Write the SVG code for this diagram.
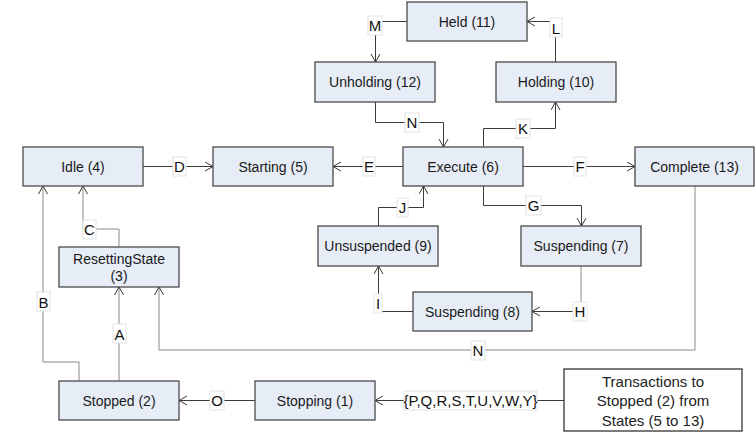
<svg xmlns="http://www.w3.org/2000/svg" width="756" height="433" viewBox="0 0 756 433">
<style>
.n rect{fill:#e7edf6;stroke:#4a4a4a;stroke-width:1.3}
.n text{font-family:"Liberation Sans",Arial,sans-serif;font-size:14px;fill:#1a1a1a;text-anchor:middle;dominant-baseline:central}
.c path{fill:none;stroke:#3a3a3a;stroke-width:1}
.c path.g{stroke:#8a8a8a}
.l rect{fill:#fff;stroke:#e2e2e2;stroke-width:1}
.l text{font-family:"Liberation Sans",Arial,sans-serif;font-size:15px;fill:#111;text-anchor:middle;dominant-baseline:central}
</style>
<defs>
<marker id="a" markerUnits="userSpaceOnUse" markerWidth="12" markerHeight="12" refX="9" refY="5" orient="auto">
<path d="M1,0.5 L9,5 L1,9.5" fill="none" stroke="#3a3a3a" stroke-width="1"/>
</marker>
</defs>
<g class="c" id="connectors">
<path d="M407,21.5 H375.5 V62" marker-end="url(#a)"/>
<path d="M555.5,62 V21.5 H527" marker-end="url(#a)"/>
<path d="M375.5,102 V122.5 H443.5 V147" marker-end="url(#a)"/>
<path d="M483.5,147 V128.5 H555.5 V102" marker-end="url(#a)"/>
<path d="M143,166.5 H213" marker-end="url(#a)"/>
<path d="M403,166.5 H333" marker-end="url(#a)"/>
<path d="M523,166.5 H635" marker-end="url(#a)"/>
<path d="M483.5,186 V205.5 H581.5 V226" marker-end="url(#a)"/>
<path d="M378.5,226 V207.5 H423.5 V186" marker-end="url(#a)"/>
<path class="g" d="M581,266 V311.5"/>
<path d="M581,311.5 H532" marker-end="url(#a)"/>
<path d="M413,311.5 H378.5 V266" marker-end="url(#a)"/>
<path class="g" d="M695,186 V350 H159 V287" marker-end="url(#a)"/>
<path class="g" d="M119,247 V229 H83 V186" marker-end="url(#a)"/>
<path class="g" d="M79,381 V362 H43 V186" marker-end="url(#a)"/>
<path class="g" d="M119,381 V287" marker-end="url(#a)"/>
<path d="M255,400.5 H179" marker-end="url(#a)"/>
<path d="M564,400.5 H375" marker-end="url(#a)"/>
</g>
<g class="l" id="labels">
<g><rect x="368" y="16" width="14" height="19"/><text x="375" y="25.5">M</text></g>
<g><rect x="550" y="18" width="12" height="19"/><text x="556" y="28">L</text></g>
<g><rect x="405" y="113" width="14" height="19"/><text x="412" y="122.5">N</text></g>
<g><rect x="516" y="119" width="14" height="19"/><text x="523" y="128.5">K</text></g>
<g><rect x="173" y="157" width="13" height="19"/><text x="179.5" y="166.5">D</text></g>
<g><rect x="363" y="157" width="12" height="19"/><text x="369" y="166.5">E</text></g>
<g><rect x="574" y="157" width="12" height="19"/><text x="580" y="166.5">F</text></g>
<g><rect x="526" y="196" width="15" height="19"/><text x="533.5" y="205.5">G</text></g>
<g><rect x="397" y="198" width="11" height="19"/><text x="402.5" y="207.5">J</text></g>
<g><rect x="573" y="302" width="14" height="19"/><text x="580" y="311.5">H</text></g>
<g><rect x="374" y="294" width="8" height="19"/><text x="378" y="303.5">I</text></g>
<g><rect x="83" y="220" width="13" height="19"/><text x="89.5" y="229">C</text></g>
<g><rect x="37" y="292" width="13" height="19"/><text x="43.5" y="302">B</text></g>
<g><rect x="113" y="324" width="13" height="19"/><text x="119.5" y="334">A</text></g>
<g><rect x="471" y="341" width="14" height="19"/><text x="478" y="350.5">N</text></g>
<g><rect x="210" y="391" width="14" height="19"/><text x="217" y="400.5">O</text></g>
<g><rect x="404" y="391" width="133" height="19"/><text x="470.5" y="400.5" font-size="14">{P,Q,R,S,T,U,V,W,Y}</text></g>
</g>
<g class="n" id="held"><rect x="407" y="2" width="120" height="39"/><text x="467" y="21.5">Held (11)</text></g>
<g class="n" id="unholding"><rect x="315" y="62" width="120" height="40"/><text x="375" y="82">Unholding (12)</text></g>
<g class="n" id="holding"><rect x="496" y="62" width="120" height="40"/><text x="556" y="82">Holding (10)</text></g>
<g class="n" id="idle"><rect x="23" y="147" width="120" height="39"/><text x="83" y="166.5">Idle (4)</text></g>
<g class="n" id="starting"><rect x="213" y="147" width="120" height="39"/><text x="273" y="166.5">Starting (5)</text></g>
<g class="n" id="execute"><rect x="403" y="147" width="120" height="39"/><text x="463" y="166.5">Execute (6)</text></g>
<g class="n" id="complete"><rect x="635" y="147" width="119" height="39"/><text x="694.5" y="166.5">Complete (13)</text></g>
<g class="n" id="unsuspended"><rect x="318" y="226" width="120" height="40"/><text x="378" y="246">Unsuspended (9)</text></g>
<g class="n" id="suspending7"><rect x="521" y="226" width="120" height="40"/><text x="581" y="246">Suspending (7)</text></g>
<g class="n" id="suspending8"><rect x="413" y="292" width="119" height="39"/><text x="472.5" y="311.5">Suspending (8)</text></g>
<g class="n" id="resetting"><rect x="59" y="247" width="120" height="40"/><text x="119" y="259">ResettingState</text><text x="119" y="276">(3)</text></g>
<g class="n" id="stopped"><rect x="59" y="381" width="120" height="39"/><text x="119" y="400.5">Stopped (2)</text></g>
<g class="n" id="stopping"><rect x="255" y="381" width="120" height="39"/><text x="315" y="400.5">Stopping (1)</text></g>
<g id="transactions"><rect x="564" y="369" width="178" height="62" fill="#fff" stroke="#222" stroke-width="1.2"/>
<text font-family="'Liberation Sans',Arial,sans-serif" font-size="15" fill="#222" text-anchor="middle" dominant-baseline="central"><tspan x="653" y="380.5">Transactions to</tspan><tspan x="653" y="400">Stopped (2) from</tspan><tspan x="653" y="419.5">States (5 to 13)</tspan></text></g>
</svg>
